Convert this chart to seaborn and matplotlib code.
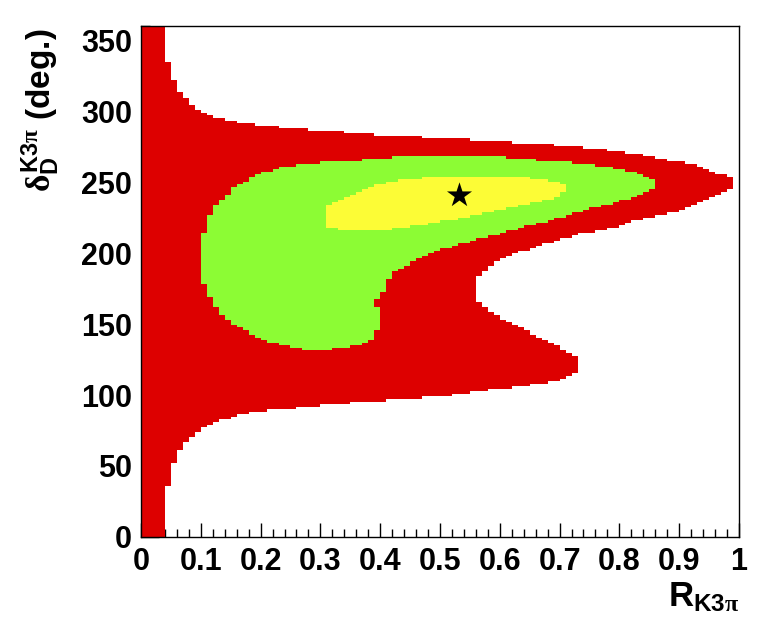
import numpy as np
import pandas as pd
import seaborn as sns
import matplotlib.pyplot as plt
from matplotlib.colors import ListedColormap

# outer contour (red): filled from R=0 up to red_right at each delta
red_delta = [0, 35, 36, 51, 52, 60, 62, 66, 70, 74, 77, 80, 82, 85, 87, 89, 91, 93, 95, 97,
             99, 102, 105, 108, 111, 114, 118, 125, 129, 132, 136, 140, 145, 150, 155, 159,
             163, 167, 183, 189, 194, 199, 203, 207, 213, 218, 223, 227, 230, 234, 238, 243,
             245, 253, 255, 258, 262, 265, 269, 272, 275, 278, 281, 283, 284.5, 286, 288,
             289.5, 291, 293, 295, 297.5, 300, 303, 307, 311, 317, 327, 343, 360]
red_right = [0.04, 0.04, 0.05, 0.05, 0.06, 0.06, 0.07, 0.075, 0.085, 0.095, 0.105, 0.12, 0.13,
             0.16, 0.18, 0.21, 0.26, 0.31, 0.36, 0.43, 0.50, 0.56, 0.61, 0.667, 0.70, 0.72,
             0.732, 0.732, 0.722, 0.706, 0.69, 0.667, 0.645, 0.622, 0.60, 0.584, 0.572, 0.562,
             0.562, 0.578, 0.595, 0.622, 0.65, 0.678, 0.73, 0.79, 0.83, 0.873, 0.90, 0.929,
             0.95, 0.975, 0.992, 0.992, 0.975, 0.95, 0.929, 0.89, 0.846, 0.79, 0.734, 0.622,
             0.511, 0.40, 0.37, 0.31, 0.26, 0.21, 0.18, 0.15, 0.13, 0.11, 0.10, 0.09, 0.08,
             0.07, 0.06, 0.05, 0.04, 0.04]

# middle contour (green)
green_delta = [132, 134, 137, 141, 146, 150, 155, 160, 165, 170, 176, 181, 186, 190, 195, 200,
               205, 210, 215, 220, 225, 230, 235, 240, 245, 250, 253, 256, 260, 263, 265, 267.5]
green_left = [0.27, 0.25, 0.216, 0.19, 0.171, 0.15, 0.14, 0.13, 0.12, 0.115, 0.11, 0.10, 0.10,
              0.10, 0.10, 0.10, 0.10, 0.10, 0.105, 0.108, 0.11, 0.12, 0.128, 0.14, 0.152,
              0.171, 0.185, 0.20, 0.23, 0.27, 0.35, 0.43]
green_right = [0.32, 0.35, 0.383, 0.391, 0.395, 0.40, 0.40, 0.40, 0.391, 0.40, 0.41, 0.415,
               0.422, 0.441, 0.455, 0.49, 0.52, 0.567, 0.61, 0.655, 0.70, 0.74, 0.79, 0.83,
               0.855, 0.861, 0.85, 0.834, 0.79, 0.74, 0.68, 0.60]

# inner contour (yellow)
yellow_delta = [215.7, 217.5, 219, 221, 225.6, 230.3, 232.6, 235, 238, 241, 244, 247, 249, 251,
                252.6, 254.4]
yellow_left = [0.345, 0.32, 0.312, 0.309, 0.309, 0.309, 0.312, 0.32, 0.335, 0.35, 0.37, 0.39,
               0.405, 0.43, 0.461, 0.517]
yellow_right = [0.405, 0.433, 0.46, 0.489, 0.545, 0.60, 0.625, 0.656, 0.685, 0.70, 0.712,
                0.712, 0.70, 0.68, 0.656, 0.60]

# best fit point
best_r = [0.531]
best_delta = [240.8]

level_colors = ['#dd0000', '#8cfc34', '#fcfc36']

x_ticks = [0, 0.1, 0.2, 0.3, 0.4, 0.5, 0.6, 0.7, 0.8, 0.9, 1]
x_ticklabels = ['0', '0.1', '0.2', '0.3', '0.4', '0.5', '0.6', '0.7', '0.8', '0.9', '1']
y_ticks = [0, 50, 100, 150, 200, 250, 300, 350]
y_ticklabels = ['0', '50', '100', '150', '200', '250', '300', '350']

sns.set_style('ticks')
plt.rcParams['font.family'] = ['Liberation Sans', 'DejaVu Sans']
plt.rcParams['font.weight'] = 'bold'
plt.rcParams['text.color'] = 'black'
plt.rcParams['axes.labelcolor'] = 'black'
plt.rcParams['xtick.color'] = 'black'
plt.rcParams['ytick.color'] = 'black'
plt.rcParams['mathtext.fontset'] = 'custom'
plt.rcParams['mathtext.rm'] = 'Liberation Sans:bold'
plt.rcParams['mathtext.bf'] = 'Liberation Sans:bold'
plt.rcParams['mathtext.it'] = 'Liberation Serif'

# histogram grid
x_edges = np.linspace(0, 1, 101)
y_edges = np.linspace(0, 360, 201)
xc = (x_edges[:-1] + x_edges[1:]) / 2
yc = (y_edges[:-1] + y_edges[1:]) / 2
X, Y = np.meshgrid(xc, yc)


def band(delta, left, right):
    lo = np.interp(Y, delta, left)
    hi = np.interp(Y, delta, right)
    inside = (Y >= delta[0]) & (Y <= delta[-1])
    return inside & (X >= lo) & (X < hi)


level = np.zeros_like(X)
level[band(red_delta, [0.0] * len(red_delta), red_right)] = 1
level[band(green_delta, green_left, green_right)] = 2
level[band(yellow_delta, yellow_left, yellow_right)] = 3

df = pd.DataFrame({'r': X.ravel(), 'delta': Y.ravel(), 'level': level.ravel()})

fig = plt.figure(figsize=(7.68, 6.43), dpi=100)
ax = fig.add_axes([0.1836, 0.1649, 0.7786, 0.7947])
sns.histplot(data=df, x='r', y='delta', weights='level', bins=[x_edges, y_edges],
             cmap=ListedColormap(level_colors), vmin=0.5, vmax=3.5, ax=ax)
sns.scatterplot(x=best_r, y=best_delta, marker='*', s=360, color='black', linewidth=0, ax=ax)

ax.set_xlim(0, 1)
ax.set_ylim(0, 360)
ax.set_xlabel('')
ax.set_ylabel('')
ax.set_xticks(x_ticks)
ax.set_xticklabels(x_ticklabels)
ax.set_yticks(y_ticks)
ax.set_yticklabels(y_ticklabels)
ax.set_xticks(np.arange(0, 1.001, 0.02), minor=True)
ax.set_yticks(np.arange(0, 361, 10), minor=True)
ax.tick_params(which='both', direction='in', top=False, right=False, width=1,
               color='black', labelcolor='black')
ax.tick_params(axis='x', which='major', length=10, labelsize=22, pad=7.5)
ax.tick_params(axis='x', which='minor', length=5.5)
ax.tick_params(axis='y', which='major', length=13, labelsize=22, pad=6.5)
ax.tick_params(axis='y', which='minor', length=6.5)
for lab in ax.get_xticklabels() + ax.get_yticklabels():
    lab.set_fontweight('bold')
for sp in ax.spines.values():
    sp.set_visible(True)
    sp.set_linewidth(1)
    sp.set_color('black')

fig.text(739 / 768, 1 - 607 / 643, r'R$_{\mathrm{K3}\pi}$', fontsize=25, fontweight='bold',
         color='black', ha='right', va='baseline')
fig.text(51 / 768, 1 - 28 / 643, r'$\delta_{\mathrm{D}}^{\mathrm{K3}\pi}$ (deg.)', fontsize=24,
         fontweight='bold', color='black', rotation=90, rotation_mode='anchor',
         ha='right', va='baseline')

fig.savefig('out.png', dpi=100)
